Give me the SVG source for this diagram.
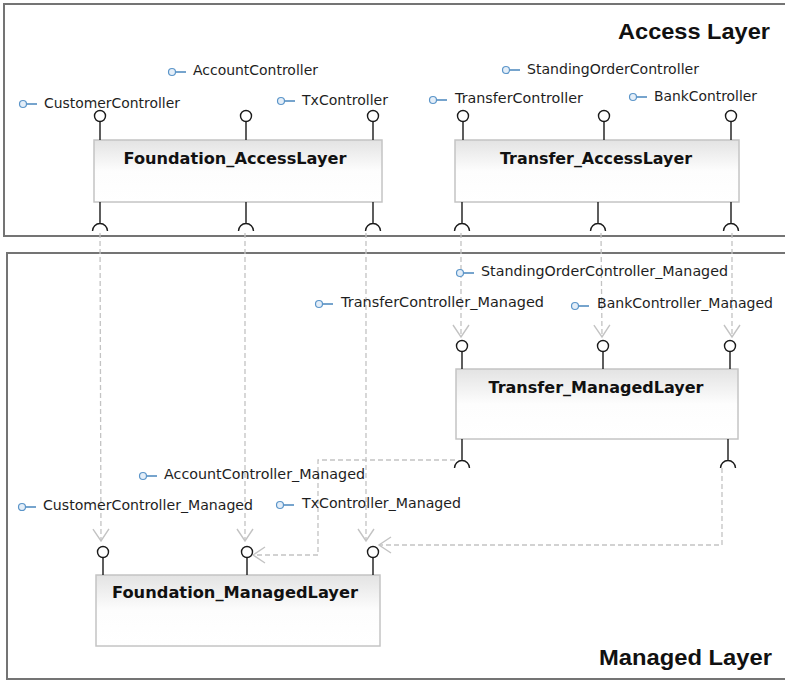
<svg xmlns="http://www.w3.org/2000/svg" width="785" height="681" viewBox="0 0 785 681">
  <style>
    .frame { fill: #ffffff; stroke: #747474; stroke-width: 2; }
    .frame-title { font-family: "Liberation Sans", Arial, sans-serif; font-weight: bold; font-size: 22px; fill: #111111; }
    .box { fill: url(#boxFill); stroke: #c4c4c4; stroke-width: 1.5; }
    .box-title { font-family: "DejaVu Sans", Verdana, sans-serif; font-weight: bold; font-size: 16px; fill: #111111; text-anchor: middle; }
    .port { fill: none; stroke: #1a1a1a; stroke-width: 1.4; }
    .port-ball { fill: #ffffff; stroke: #1a1a1a; stroke-width: 1.4; }
    .iface-icon { fill: #e4eef8; stroke: #5b95c9; stroke-width: 1.2; }
    .iface-tick { stroke: #3c7db8; stroke-width: 1.4; }
    .iface-label { font-family: "DejaVu Sans", Verdana, sans-serif; font-size: 14px; fill: #1e1e1e; }
    .dep { fill: none; stroke: #c3c3c3; stroke-width: 1.3; stroke-dasharray: 5 3; marker-end: url(#openArrow); }
  </style>
  <defs>
    <linearGradient id="boxFill" x1="0" y1="0" x2="0" y2="1">
      <stop offset="0" stop-color="#e3e3e3"/>
      <stop offset="0.5" stop-color="#fdfdfd"/>
      <stop offset="1" stop-color="#ffffff"/>
    </linearGradient>
    <marker id="openArrow" markerUnits="userSpaceOnUse" viewBox="-13 -9 15 18" refX="0" refY="0" markerWidth="15" markerHeight="18" orient="auto">
      <path d="M-12 -8 L0 0 L-12 8" fill="none" stroke="#c3c3c3" stroke-width="1.4"/>
    </marker>
  </defs>

  <!-- layer frames -->
  <g id="access-layer">
    <rect class="frame" x="4" y="4" width="800" height="232"/>
    <text class="frame-title" x="618" y="39" textLength="152" lengthAdjust="spacingAndGlyphs">Access Layer</text>
  </g>
  <g id="managed-layer">
    <rect class="frame" x="7" y="253" width="800" height="426"/>
    <text class="frame-title" x="599" y="665" textLength="173" lengthAdjust="spacingAndGlyphs">Managed Layer</text>
  </g>

  <!-- dependency connectors -->
  <g id="connectors">
    <path class="dep" d="M100 233 L101 541"/>
    <path class="dep" d="M245 233 L245 541"/>
    <path class="dep" d="M366 233 L366 541"/>
    <path class="dep" d="M461 233 L461 337"/>
    <path class="dep" d="M601 233 L602 337"/>
    <path class="dep" d="M732 233 L732 337"/>
    <path class="dep" d="M455 460 L318 460 L318 555 L253 555"/>
    <path class="dep" d="M722 468 L722 545 L379 545"/>
  </g>

  <!-- Foundation_AccessLayer -->
  <g id="foundation-access">
    <rect class="box" x="94" y="140" width="288" height="62"/>
    <text class="box-title" x="235" y="164" textLength="223" lengthAdjust="spacingAndGlyphs">Foundation_AccessLayer</text>
    <path class="port" d="M100 121 V140 M246 121 V140 M373 121 V140"/>
    <circle class="port-ball" cx="100" cy="116" r="5.5"/>
    <circle class="port-ball" cx="246" cy="116" r="5.5"/>
    <circle class="port-ball" cx="373" cy="116" r="5.5"/>
    <path class="port" d="M100 202 V224 M92.5 231 A7.5 7.5 0 0 1 107.5 231"/>
    <path class="port" d="M246 202 V224 M238.5 231 A7.5 7.5 0 0 1 253.5 231"/>
    <path class="port" d="M373 202 V224 M365.5 231 A7.5 7.5 0 0 1 380.5 231"/>
  </g>

  <!-- Transfer_AccessLayer -->
  <g id="transfer-access">
    <rect class="box" x="455" y="140" width="284" height="62"/>
    <text class="box-title" x="596" y="164" textLength="192" lengthAdjust="spacingAndGlyphs">Transfer_AccessLayer</text>
    <path class="port" d="M463 121 V140 M604 121 V140 M731 121 V140"/>
    <circle class="port-ball" cx="463" cy="116" r="5.5"/>
    <circle class="port-ball" cx="604" cy="116" r="5.5"/>
    <circle class="port-ball" cx="731" cy="116" r="5.5"/>
    <path class="port" d="M462 202 V224 M454.5 231 A7.5 7.5 0 0 1 469.5 231"/>
    <path class="port" d="M598 202 V224 M590.5 231 A7.5 7.5 0 0 1 605.5 231"/>
    <path class="port" d="M731 202 V224 M723.5 231 A7.5 7.5 0 0 1 738.5 231"/>
  </g>

  <!-- Transfer_ManagedLayer -->
  <g id="transfer-managed">
    <rect class="box" x="456" y="369" width="282" height="70"/>
    <text class="box-title" x="596" y="393" textLength="215" lengthAdjust="spacingAndGlyphs">Transfer_ManagedLayer</text>
    <path class="port" d="M462 351 V369 M603 351 V369 M730 351 V369"/>
    <circle class="port-ball" cx="462" cy="346" r="5.5"/>
    <circle class="port-ball" cx="603" cy="346" r="5.5"/>
    <circle class="port-ball" cx="730" cy="346" r="5.5"/>
    <path class="port" d="M462 439 V461 M454.5 468 A7.5 7.5 0 0 1 469.5 468"/>
    <path class="port" d="M728 439 V461 M720.5 468 A7.5 7.5 0 0 1 735.5 468"/>
  </g>

  <!-- Foundation_ManagedLayer -->
  <g id="foundation-managed">
    <rect class="box" x="96" y="575" width="284" height="71"/>
    <text class="box-title" x="235" y="598" textLength="246" lengthAdjust="spacingAndGlyphs">Foundation_ManagedLayer</text>
    <path class="port" d="M103 557 V575 M247 557 V575 M373 557 V575"/>
    <circle class="port-ball" cx="103" cy="552" r="5.5"/>
    <circle class="port-ball" cx="247" cy="552" r="5.5"/>
    <circle class="port-ball" cx="373" cy="552" r="5.5"/>
  </g>

  <!-- provided interface labels -->
  <g id="iface-customer">
    <circle class="iface-icon" cx="23" cy="104" r="3.5"/><line class="iface-tick" x1="27" y1="104" x2="37" y2="104"/>
    <text class="iface-label" x="44" y="108" textLength="136" lengthAdjust="spacingAndGlyphs">CustomerController</text>
  </g>
  <g id="iface-account">
    <circle class="iface-icon" cx="172" cy="72" r="3.5"/><line class="iface-tick" x1="176" y1="72" x2="186" y2="72"/>
    <text class="iface-label" x="193" y="75" textLength="125" lengthAdjust="spacingAndGlyphs">AccountController</text>
  </g>
  <g id="iface-tx">
    <circle class="iface-icon" cx="281" cy="101" r="3.5"/><line class="iface-tick" x1="285" y1="101" x2="295" y2="101"/>
    <text class="iface-label" x="302" y="105" textLength="86" lengthAdjust="spacingAndGlyphs">TxController</text>
  </g>
  <g id="iface-standing-order">
    <circle class="iface-icon" cx="506" cy="70" r="3.5"/><line class="iface-tick" x1="510" y1="70" x2="520" y2="70"/>
    <text class="iface-label" x="527" y="74" textLength="172" lengthAdjust="spacingAndGlyphs">StandingOrderController</text>
  </g>
  <g id="iface-transfer">
    <circle class="iface-icon" cx="433" cy="100" r="3.5"/><line class="iface-tick" x1="437" y1="100" x2="447" y2="100"/>
    <text class="iface-label" x="455" y="103" textLength="128" lengthAdjust="spacingAndGlyphs">TransferController</text>
  </g>
  <g id="iface-bank">
    <circle class="iface-icon" cx="633" cy="97" r="3.5"/><line class="iface-tick" x1="637" y1="97" x2="647" y2="97"/>
    <text class="iface-label" x="654" y="101" textLength="103" lengthAdjust="spacingAndGlyphs">BankController</text>
  </g>
  <g id="iface-standing-order-managed">
    <circle class="iface-icon" cx="460" cy="273" r="3.5"/><line class="iface-tick" x1="464" y1="273" x2="474" y2="273"/>
    <text class="iface-label" x="481" y="276" textLength="247" lengthAdjust="spacingAndGlyphs">StandingOrderController_Managed</text>
  </g>
  <g id="iface-transfer-managed">
    <circle class="iface-icon" cx="319" cy="304" r="3.5"/><line class="iface-tick" x1="323" y1="304" x2="333" y2="304"/>
    <text class="iface-label" x="341" y="307" textLength="203" lengthAdjust="spacingAndGlyphs">TransferController_Managed</text>
  </g>
  <g id="iface-bank-managed">
    <circle class="iface-icon" cx="575" cy="306" r="3.5"/><line class="iface-tick" x1="579" y1="306" x2="589" y2="306"/>
    <text class="iface-label" x="597" y="308" textLength="176" lengthAdjust="spacingAndGlyphs">BankController_Managed</text>
  </g>
  <g id="iface-account-managed">
    <circle class="iface-icon" cx="143" cy="476" r="3.5"/><line class="iface-tick" x1="147" y1="476" x2="157" y2="476"/>
    <text class="iface-label" x="164" y="479" textLength="201" lengthAdjust="spacingAndGlyphs">AccountController_Managed</text>
  </g>
  <g id="iface-customer-managed">
    <circle class="iface-icon" cx="22" cy="507" r="3.5"/><line class="iface-tick" x1="26" y1="507" x2="36" y2="507"/>
    <text class="iface-label" x="43" y="510" textLength="210" lengthAdjust="spacingAndGlyphs">CustomerController_Managed</text>
  </g>
  <g id="iface-tx-managed">
    <circle class="iface-icon" cx="280" cy="505" r="3.5"/><line class="iface-tick" x1="284" y1="505" x2="294" y2="505"/>
    <text class="iface-label" x="302" y="508" textLength="159" lengthAdjust="spacingAndGlyphs">TxController_Managed</text>
  </g>
</svg>
